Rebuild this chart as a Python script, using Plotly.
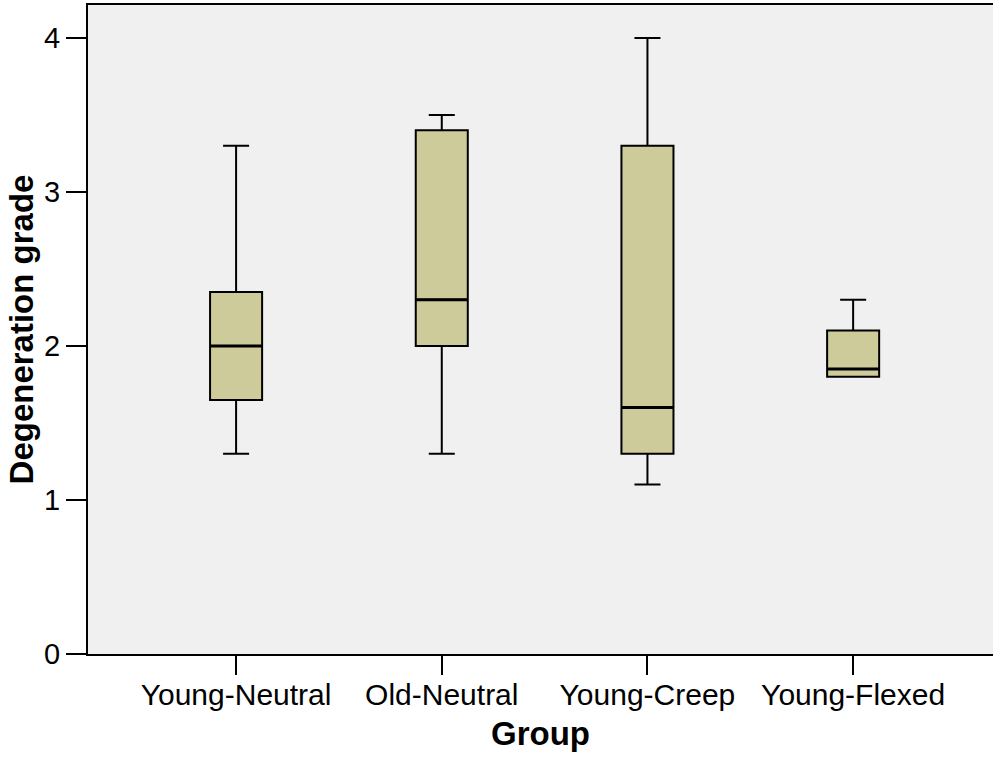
import plotly.graph_objects as go

groups = ["Young-Neutral", "Old-Neutral", "Young-Creep", "Young-Flexed"]
lower = [1.3, 1.3, 1.1, 1.8]
q1 = [1.65, 2.0, 1.3, 1.8]
median = [2.0, 2.3, 1.6, 1.85]
q3 = [2.35, 3.4, 3.3, 2.1]
upper = [3.3, 3.5, 4.0, 2.3]

y_ticks = [0, 1, 2, 3, 4]

BOX_W = 0.253
FILL = "#CDCB99"
FONT = "Liberation Sans, Arial, sans-serif"

fig = go.Figure()
pos = list(range(len(groups)))
fig.add_trace(go.Box(
    x=pos, q1=q1, median=median, q3=q3, lowerfence=lower, upperfence=upper,
    fillcolor=FILL, line=dict(color="black", width=2),
    whiskerwidth=0.5, width=BOX_W, boxpoints=False, showlegend=False,
    hoverinfo="skip",
))
# thicker median lines
for i, m in enumerate(median):
    fig.add_trace(go.Scatter(
        x=[i - BOX_W / 2, i + BOX_W / 2], y=[m, m], mode="lines",
        line=dict(color="black", width=3), showlegend=False, hoverinfo="skip",
    ))

fig.update_layout(
    width=993, height=758,
    margin=dict(l=88, r=0, t=5, b=104),
    paper_bgcolor="white", plot_bgcolor="#F0F0F0",
    font=dict(family=FONT, color="black", size=29),
)
fig.update_xaxes(
    range=[-0.72, 3.68], tickvals=pos, ticktext=groups,
    showgrid=False, zeroline=False,
    showline=True, linecolor="black", linewidth=2, mirror=True,
    ticks="outside", ticklen=19, tickwidth=2, tickcolor="black",
    tickfont=dict(size=30), ticklabelstandoff=-6,
    title=dict(text="<b>Group</b>", font=dict(size=33), standoff=12),
)
fig.update_yaxes(
    range=[0, 4.214], tickvals=y_ticks,
    showgrid=False, zeroline=False,
    showline=True, linecolor="black", linewidth=2, mirror=False,
    ticks="outside", ticklen=20, tickwidth=2, tickcolor="black",
    tickfont=dict(size=29),
    title=dict(text="<b>Degeneration grade</b>", font=dict(size=33), standoff=1),
)

fig.write_html("out.html")
